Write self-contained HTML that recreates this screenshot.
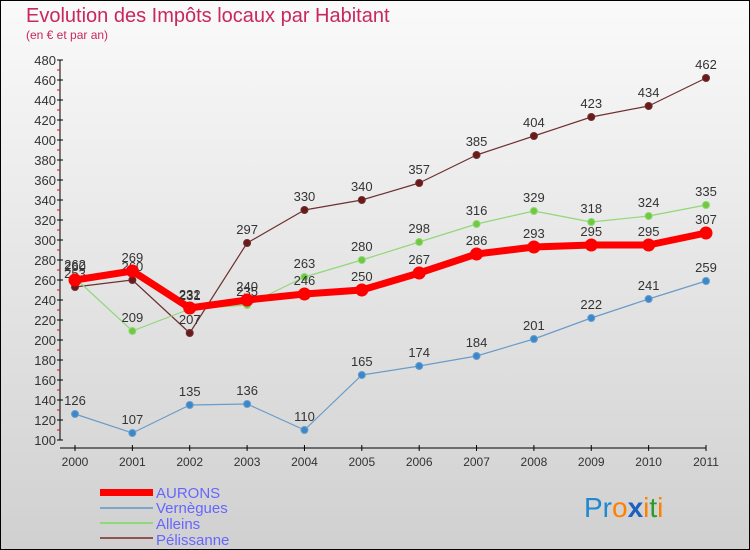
<!DOCTYPE html>
<html><head><meta charset="utf-8"><style>
body{margin:0;}
svg{display:block;font-family:"Liberation Sans",sans-serif;}
</style></head><body>
<svg width="750" height="550" viewBox="0 0 750 550">
<defs><linearGradient id="bg" x1="0" y1="0" x2="0" y2="1"><stop offset="0" stop-color="#fafafa"/><stop offset="1" stop-color="#d0d0d0"/></linearGradient></defs>
<rect x="0.5" y="0.5" width="749" height="549" fill="url(#bg)" stroke="#000"/>
<text x="26" y="22" font-size="20" fill="#c8285a">Evolution des Impôts locaux par Habitant</text>
<text x="26" y="39" font-size="12" fill="#c8285a">(en € et par an)</text>
<g id="axes"></g>
<g id="series"></g>
<g font-size="15" fill="#6666ff">
<rect x="100" y="489" width="53" height="7" fill="#f00"/>
<text x="156" y="498">AURONS</text>
<rect x="100" y="507" width="53" height="2" fill="#7aa8cc"/>
<text x="156" y="513">Vernègues</text>
<rect x="100" y="522" width="53" height="2" fill="#90d878"/>
<text x="156" y="529">Alleins</text>
<rect x="100" y="537" width="53" height="2" fill="#8e5454"/>
<text x="156" y="545">Pélissanne</text>
</g>
<text x="584" y="517" font-size="28" font-family="Liberation Sans,sans-serif"><tspan fill="#1e88d0">Pr</tspan><tspan fill="#ff8000">o</tspan><tspan fill="#1e60c0" font-weight="bold">x</tspan><tspan fill="#ff8000">i</tspan><tspan fill="#2a9a2a">t</tspan><tspan fill="#ff8000">i</tspan></text>
</svg>
<script>
const years=["2000","2001","2002","2003","2004","2005","2006","2007","2008","2009","2010","2011"];
const yTicks=[100,120,140,160,180,200,220,240,260,280,300,320,340,360,380,400,420,440,460,480];
const aurons=[260,269,232,240,246,250,267,286,293,295,295,307];
const vernegues=[126,107,135,136,110,165,174,184,201,222,241,259];
const alleins=[262,209,231,235,263,280,298,316,329,318,324,335];
const pelissanne=[253,260,207,297,330,340,357,385,404,423,434,462];
const NS="http://www.w3.org/2000/svg";
function X(i){return 75+i*(706-75)/11;}
function Y(v){return 440-(v-100)*(380/380);}
function mk(tag,attrs,parent){const e=document.createElementNS(NS,tag);for(const k in attrs)e.setAttribute(k,attrs[k]);parent.appendChild(e);return e;}
const ax=document.getElementById('axes');
let a=mk('line',{x1:60,y1:Y(480),x2:60,y2:Y(100),stroke:'#000'},ax);


a=mk('line',{x1:60,y1:448,x2:706,y2:448,stroke:'#000'},ax);


yTicks.forEach((v,i)=>{
 mk('line',{x1:57,y1:Y(v),x2:63,y2:Y(v),stroke:'#000'},ax);
 if(i<yTicks.length-1) mk('line',{x1:57,y1:Y(v+10),x2:60,y2:Y(v+10),stroke:'#f00'},ax);
 const t=mk('text',{x:56,y:Y(v)+5,'text-anchor':'end','font-size':13,fill:'#333'},ax);
 t.textContent=v;
 
 
});
years.forEach((y,i)=>{
 mk('line',{x1:X(i),y1:445,x2:X(i),y2:451,stroke:'#000'},ax);
 const t=mk('text',{x:X(i),y:466,'text-anchor':'middle','font-size':12,fill:'#333'},ax);
 t.textContent=y;
 
 
});
const sg=document.getElementById('series');
function draw(data,name,color,dot,lw,r){
 const g=mk('g',{},sg);
 
 
 const p=mk('polyline',{points:data.map((v,i)=>X(i)+','+Y(v)).join(' '),fill:'none',stroke:color,'stroke-width':lw,'stroke-linejoin':'round'},g);
 
 
 data.forEach((v,i)=>{
  const c=mk('circle',{cx:X(i),cy:Y(v),r:r,fill:dot,stroke:color,'stroke-width':1},g);
  
  
  const t=mk('text',{x:X(i),y:Y(v)-9,'text-anchor':'middle','font-size':13,fill:'#333'},g);
  t.textContent=v;
  
  
 });
}
draw(pelissanne,'pelissanne','#6e3030','#6a1a1a',1.2,3.5);
draw(vernegues,'vernegues','#6a9cc8','#3a88cc',1.2,3.5);
draw(alleins,'alleins','#90d878','#70c840',1.2,3.5);
draw(aurons,'aurons','#f00','#f00',7,6);
</script>
</body></html>
